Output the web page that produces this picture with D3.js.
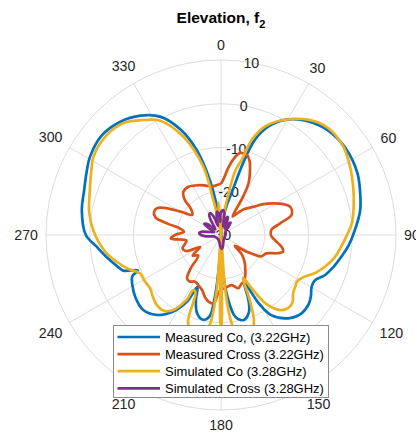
<!DOCTYPE html>
<html>
<head>
<meta charset="utf-8">
<script src="https://cdn.jsdelivr.net/npm/d3@7"></script>
<style>
  html, body { margin: 0; padding: 0; background: #fff; }
  svg { display: block; font-family: "Liberation Sans", Arial, Helvetica, sans-serif; }
</style>
</head>
<body>
<svg id="chart" width="416" height="434"></svg>
<script>
// Polar axis ticks
const thetaTicks = [0, 30, 60, 90, 120, 150, 180, 210, 240, 270, 300, 330];
const rTicks = [-30, -20, -10, 0, 10];

// Legend entries
const seriesNames = [
  "Measured Co, (3.22GHz)",
  "Measured Cross (3.22GHz)",
  "Simulated Co (3.28GHz)",
  "Simulated Cross (3.28GHz)"
];
const seriesColors = ["#0072BD", "#D95319", "#EDB120", "#7E2F8E"];

// Measured Co-pol, 3.22 GHz (angle in degrees, gain in dB)
const mcoAngle = [0, 4, 8, 11, 14.5, 17, 19.5, 23.5, 29, 36, 44, 52, 60, 66, 72, 80, 88, 95, 100, 106,
  111, 116, 120, 124, 128, 134, 141, 148, 151, 154, 157, 160, 165, 170, 174, 177, 180, 183, 186, 188,
  192, 197, 201, 204.5, 207, 212, 219, 226, 234, 241, 245, 247, 250, 253, 259, 265, 270, 280, 288, 295,
  301, 310, 318, 326, 333, 339, 344, 348.5, 352, 356];
const mcoDb = [-30, -30, -26, -23, -19.5, -13, -7, -3, 0.1, 2.4, 4.0, 4.65, 4.6, 4.2, 3.4, 2.3, 0.6, -0.8, -2.0, -3.3,
  -4.5, -6.2, -6.1, -5.2, -4.5, -4.3, -5.5, -8.4, -12, -18, -14, -11.3, -9.9, -11, -15.7, -22, -30, -25, -14.7, -11.2,
  -10.2, -11.3, -14, -17, -13, -9.4, -6.5, -5.3, -5.8, -6.8, -7.6, -9.3, -6.2, -5.3, -3.4, -1.3, 0.9, 2.3, 2.9, 3.9,
  4.9, 5.5, 4.7, 2.9, 0.3, -4.2, -9.8, -17.2, -24, -30];

// Measured Cross-pol, 3.22 GHz
const mcrAngle = [0, 6, 9, 13, 18, 21, 24, 28, 30, 32, 36, 42, 49, 54, 59, 64, 68, 74, 79, 84,
  90, 94, 101, 105, 108, 112, 118, 123, 128, 133, 140, 144, 149, 154, 158, 162, 168, 176, 180, 183,
  186, 190, 194, 199, 204, 209, 214, 218, 222, 228, 234, 240, 245, 251, 256, 261, 266, 270, 275, 279,
  282, 285, 289, 293, 296, 298, 301, 305, 309, 312, 314, 319, 326, 332, 337, 344, 351, 356];
const mcrDb = [-18.2, -14.7, -12.6, -10.8, -10.8, -11.8, -13.7, -16.6, -20, -25, -24, -22, -20.2, -18, -16.0, -14, -12.9, -13.2, -16.3, -18.4,
  -18.6, -18.0, -15.9, -15.3, -16.5, -18.8, -19.6, -23, -26, -23.5, -21.5, -20.6, -19.2, -18.2, -17.8, -17.2, -18.3, -17.8, -17.6, -16.5,
  -14.3, -14.4, -15.2, -16.7, -17.4, -17.8, -17.2, -17.4, -19.5, -23, -22, -24.5, -21.3, -20.7, -21.5, -22, -18.5, -19.5, -21.5, -20.5,
  -17.5, -14.5, -13.8, -14.2, -16, -17.7, -20, -22, -21.5, -20.4, -18.5, -16.9, -16.7, -17.2, -17.6, -18.3, -18.7, -18.5];

// Simulated Co-pol, 3.28 GHz
const scoAngle = [0, 5, 8, 10.5, 12.5, 15.4, 17.9, 22, 28, 37, 45, 54, 62, 71, 78, 85, 90, 101, 107, 112,
  117, 121, 125, 129, 133, 137, 141, 144, 147, 150, 153, 156, 159, 162, 166, 170, 173, 175.5, 177.5, 179.3,
  180, 180.7, 182.5, 184.5, 187, 190, 194, 198, 201, 204, 206.7, 208, 212.5, 217, 222.6, 228, 233, 239, 244.7, 250,
  255.6, 262, 272, 280, 289, 296, 301.5, 311, 319, 326, 332, 339, 345.5, 347.6, 350, 352, 354, 355.5, 357, 358.5];
const scoDb = [-30, -30, -25, -20, -15, -12.2, -7.2, -3.3, -0.3, 3.0, 4.6, 4.5, 3.4, 2.0, 1.0, 0.0, -1.2, -3.5, -5.2, -6.8,
  -8.8, -9.6, -9.3, -8.8, -7.6, -7.3, -7.9, -9.2, -11.4, -15.9, -19, -14, -9, -7, -6.2, -7, -9.5, -17, -30, -12,
  -7.5, -12, -30, -17, -9.5, -7, -6.2, -7, -9, -15.7, -15.9, -13.2, -9.7, -8.3, -8.3, -9, -9.7, -9.6, -9.5, -7.4,
  -5.4, -3.2, -0.8, 0.6, 1.7, 3.0, 4.2, 4.7, 3.9, 1.7, -0.4, -5.9, -13.9, -21.8, -27, -30, -26, -22.5, -26, -30];

// Simulated Cross-pol, 3.28 GHz: petal-shaped lobes around the centre
const scrAngle = [0, 5, 9, 13, 17, 21, 25, 29, 34, 38, 43, 50, 70, 100, 130, 150, 163, 170, 177, 184,
  191, 210, 240, 258, 265, 270, 275, 280, 286, 293, 299, 304, 309, 315, 321, 326, 330, 334, 338, 342,
  346, 350, 354, 357];
const scrDb = [-24.8, -24.3, -25.2, -28, -26, -25.6, -27, -28.3, -27, -26.4, -27.5, -28.6, -28.8, -29, -29, -28.8, -28.2, -27.4, -26.8, -27.4,
  -28.2, -28.8, -28.8, -28.3, -26.5, -25.4, -25, -25.6, -27.5, -28.3, -26.8, -25.4, -26, -28.2, -27.5, -25.6, -24.6, -24.4, -25.4, -27.8,
  -26, -24.6, -25.2, -27];

const seriesData = [
  d3.zip(mcoAngle, mcoDb),
  d3.zip(mcrAngle, mcrDb),
  d3.zip(scoAngle, scoDb),
  d3.zip(scrAngle, scrDb)
];

const svg = d3.select("#chart");
const cx = 221, cy = 235, R = 175;
const rad = d => d * Math.PI / 180;

const r = d3.scaleLinear().domain([rTicks[0], rTicks[rTicks.length - 1]]).range([0, R]).clamp(true);

// Title
const title = svg.append("text")
  .attr("x", 221).attr("y", 23)
  .attr("text-anchor", "middle")
  .attr("font-size", 15.5).attr("font-weight", "bold").attr("fill", "#000");
title.append("tspan").text("Elevation, f");
title.append("tspan").attr("font-size", 11).attr("dy", 5).text("2");

const g = svg.append("g").attr("transform", `translate(${cx},${cy})`);

// Grid: rings and spokes
g.append("g").selectAll("circle")
  .data(rTicks.slice(1))
  .join("circle")
  .attr("r", d => r(d))
  .attr("fill", "none")
  .attr("stroke", "#dcdcdc")
  .attr("stroke-width", 1);

g.append("g").selectAll("line")
  .data(thetaTicks)
  .join("line")
  .attr("x1", 0).attr("y1", 0)
  .attr("x2", d => R * Math.sin(rad(d)))
  .attr("y2", d => -R * Math.cos(rad(d)))
  .attr("stroke", "#dcdcdc")
  .attr("stroke-width", 1);

// Angle labels outside the outer ring
const thetaLabels = g.append("g").selectAll("text")
  .data(thetaTicks)
  .join("text")
  .attr("font-size", 14.2)
  .attr("fill", "#262626")
  .attr("text-anchor", "middle")
  .attr("dominant-baseline", "central")
  .text(d => d);
thetaLabels.each(function(d) {
  const w = this.getComputedTextLength();
  const a = rad(d);
  const rr = R + 8 + (w / 2) * Math.abs(Math.sin(a)) + 7 * Math.abs(Math.cos(a));
  d3.select(this).attr("x", rr * Math.sin(a)).attr("y", -rr * Math.cos(a));
});

// Radial tick labels along the 10 degree direction
const rAxisAngle = rad(10);
g.append("g").selectAll("text")
  .data(rTicks)
  .join("text")
  .attr("font-size", 14.2)
  .attr("fill", "#262626")
  .attr("text-anchor", "middle")
  .attr("dominant-baseline", "central")
  .attr("x", d => r(d) * Math.sin(rAxisAngle))
  .attr("y", d => -r(d) * Math.cos(rAxisAngle))
  .text(d => d);

// Pattern curves
const radial = d3.lineRadial()
  .angle(d => rad(d[0]))
  .radius(d => r(d[1]))
  .curve(d3.curveCatmullRomClosed.alpha(0.5));

g.append("g").selectAll("path")
  .data(seriesData)
  .join("path")
  .attr("d", radial)
  .attr("fill", "none")
  .attr("stroke", (d, i) => seriesColors[i])
  .attr("stroke-width", 2.7)
  .attr("stroke-linejoin", "round");

// Legend
const lg = svg.append("g").attr("transform", "translate(113.5,325.5)");
lg.append("rect")
  .attr("width", 215).attr("height", 72)
  .attr("fill", "#fff")
  .attr("stroke", "#8a8a8a")
  .attr("stroke-width", 1);
const items = lg.selectAll("g.item")
  .data(seriesNames)
  .join("g")
  .attr("class", "item")
  .attr("transform", (d, i) => `translate(0,${11.5 + i * 17.1})`);
items.append("line")
  .attr("x1", 4).attr("x2", 46.5)
  .attr("y1", 0).attr("y2", 0)
  .attr("stroke", (d, i) => seriesColors[i])
  .attr("stroke-width", 2.7);
items.append("text")
  .attr("x", 51.5).attr("y", 0)
  .attr("dominant-baseline", "central")
  .attr("font-size", 13)
  .attr("fill", "#000")
  .text(d => d);
</script>
</body>
</html>
